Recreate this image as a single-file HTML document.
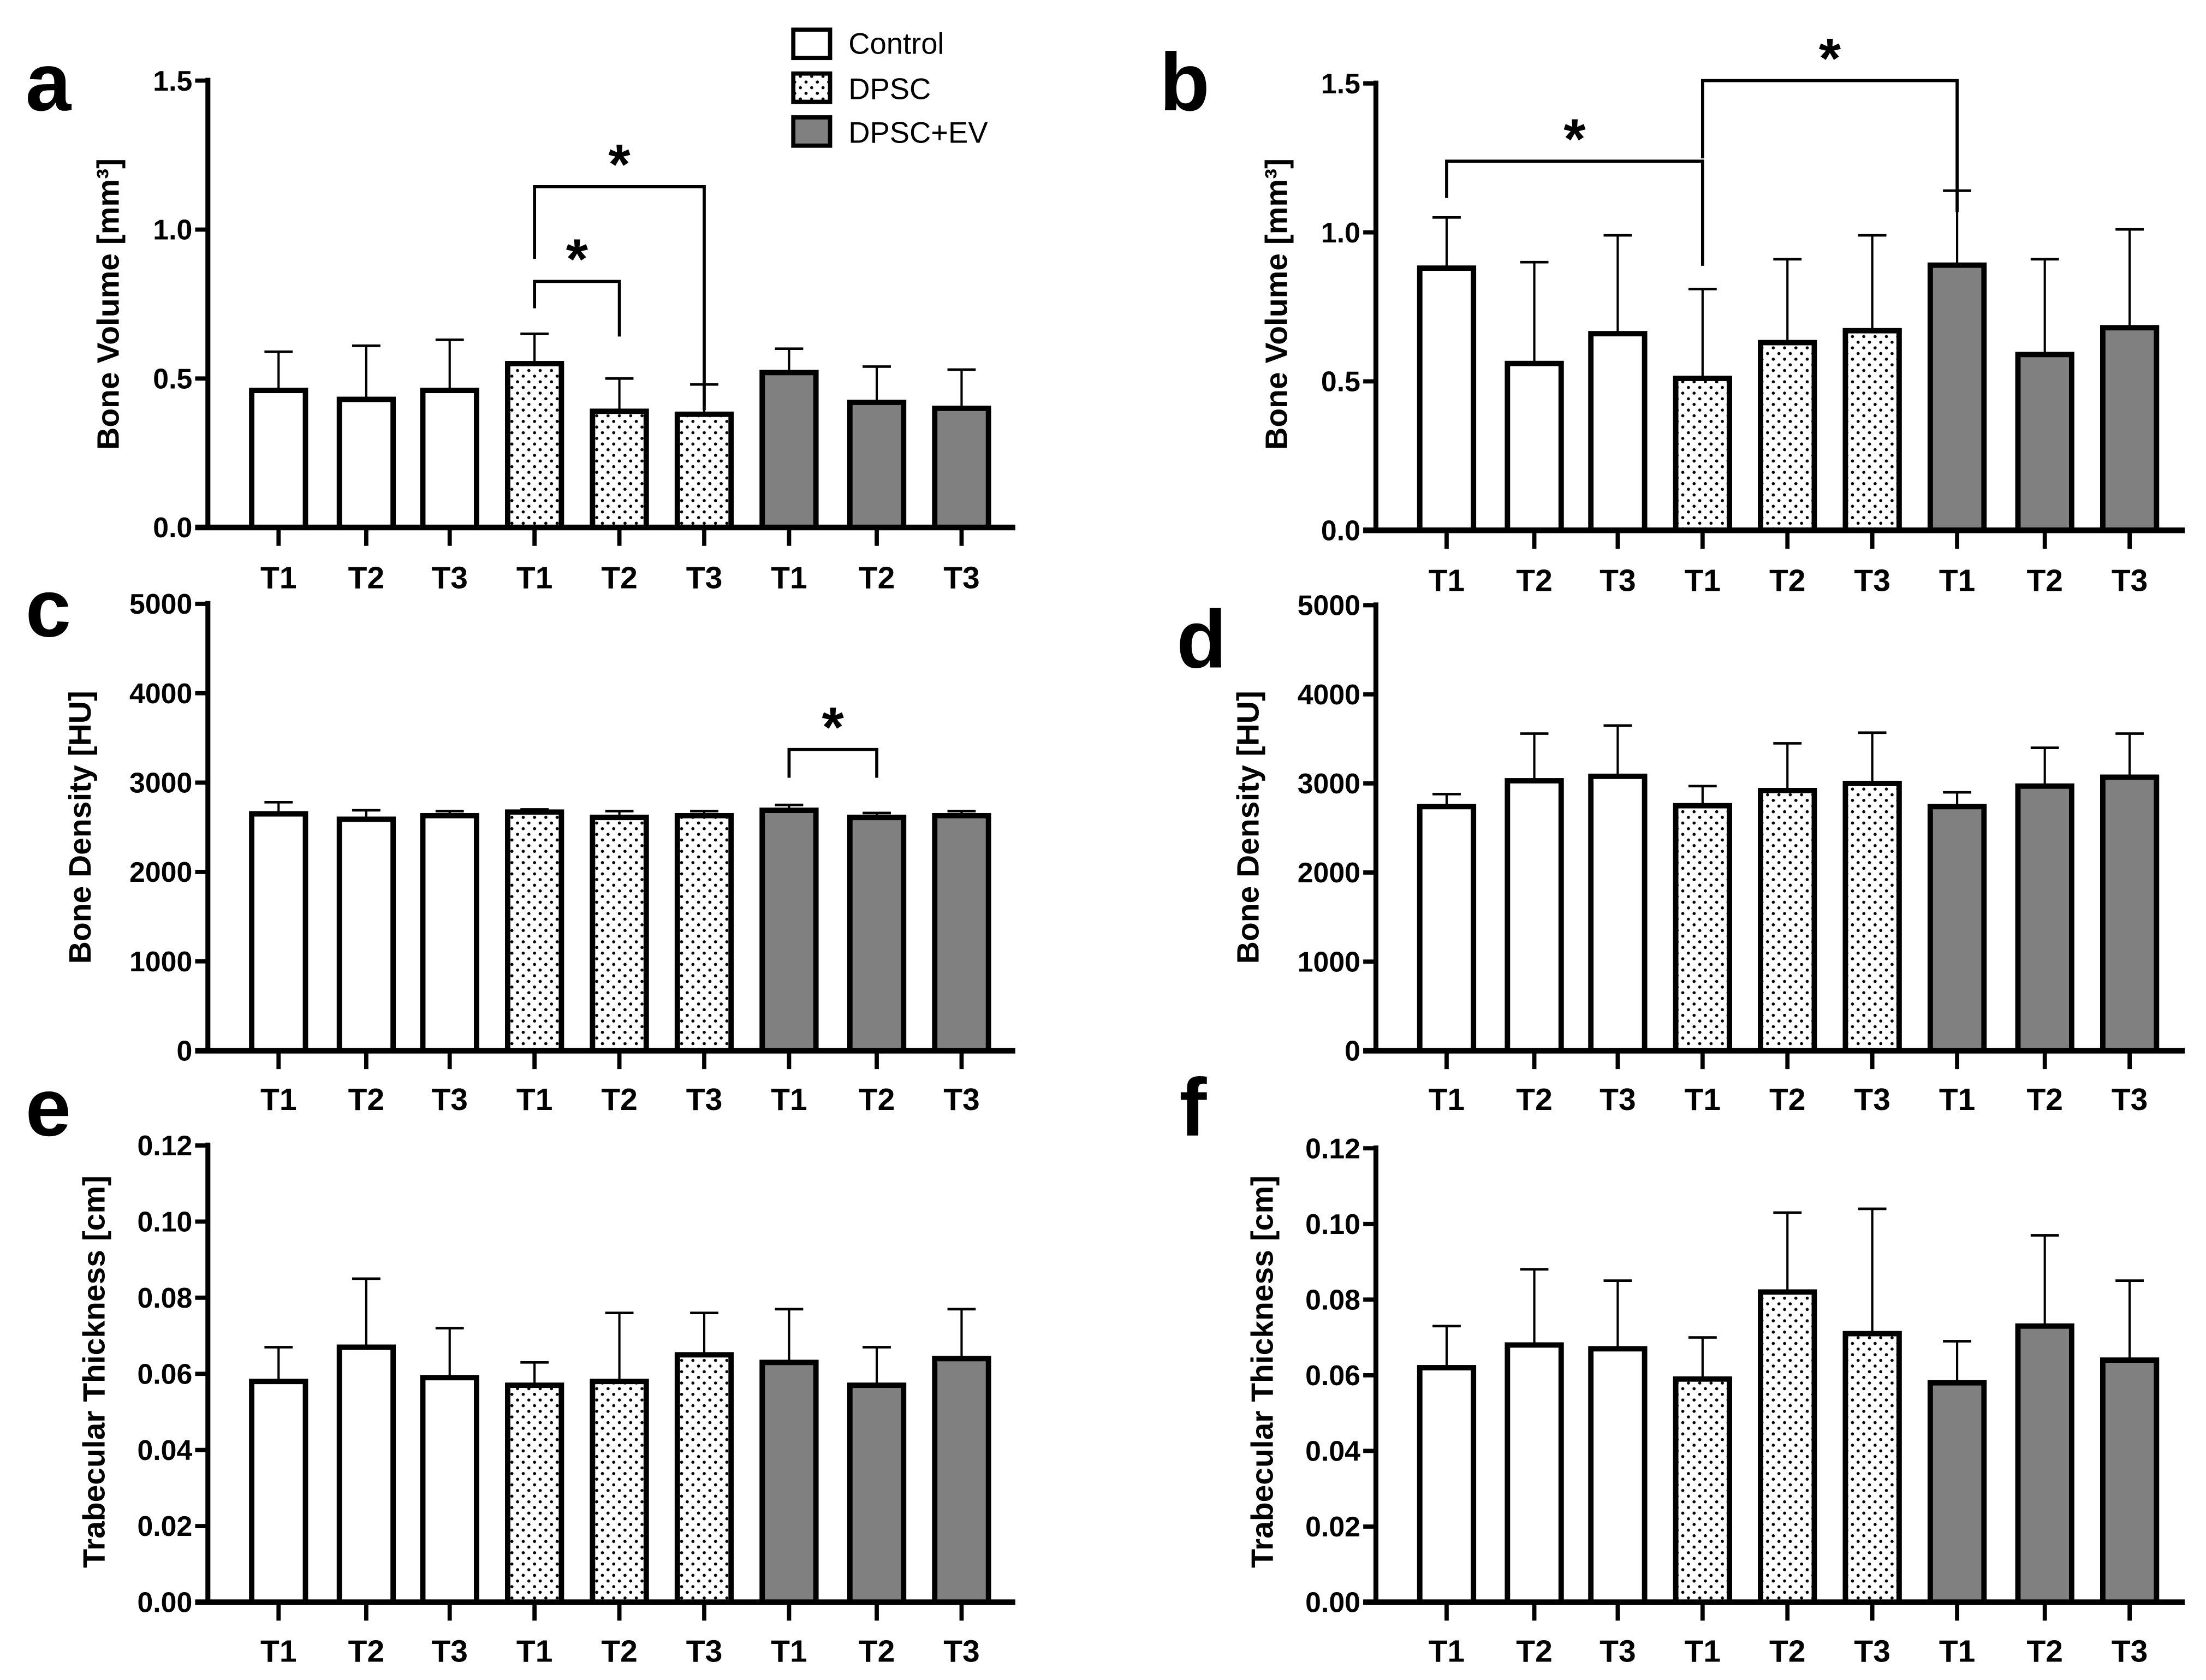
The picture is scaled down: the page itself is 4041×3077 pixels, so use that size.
<!DOCTYPE html>
<html><head><meta charset="utf-8"><style>html,body{margin:0;padding:0;background:#fff}svg{display:block}text{font-family:"Liberation Sans",Arial,sans-serif}</style></head>
<body>
<svg id="fig" width="4041" height="3077" viewBox="0 0 1560 1188" preserveAspectRatio="none" xmlns="http://www.w3.org/2000/svg">
<defs><pattern id="dots" width="8" height="8" patternUnits="userSpaceOnUse"><rect width="8" height="8" fill="#fff"/><circle cx="2" cy="2" r="1.1" fill="#000"/><circle cx="6" cy="6" r="1.1" fill="#000"/></pattern></defs>
<g id="legend">
<rect x="561" y="21" width="26" height="20" fill="#fff" stroke="#000" stroke-width="3"/>
<text x="600" y="38" font-size="21">Control</text>
<rect x="561" y="52" width="26" height="20" fill="url(#dots)" stroke="#000" stroke-width="3"/>
<text x="600" y="70" font-size="21">DPSC</text>
<rect x="561" y="83" width="26" height="20" fill="#808080" stroke="#000" stroke-width="3"/>
<text x="600" y="101" font-size="21">DPSC+EV</text>
</g>
</svg>
<script>
const categories=["T1","T2","T3","T1","T2","T3","T1","T2","T3"];
const groups=["c","c","c","d","d","d","e","e","e"];
const aMeans=[0.46,0.43,0.46,0.55,0.39,0.38,0.52,0.42,0.40];
const aErr=[0.59,0.61,0.63,0.65,0.50,0.48,0.60,0.54,0.53];
const bMeans=[0.88,0.56,0.66,0.51,0.63,0.67,0.89,0.59,0.68];
const bErr=[1.05,0.90,0.99,0.81,0.91,0.99,1.14,0.91,1.01];
const cMeans=[2650,2590,2630,2670,2610,2630,2690,2610,2630];
const cErr=[2780,2690,2680,2700,2680,2680,2750,2660,2680];
const dMeans=[2740,3030,3080,2750,2920,3000,2740,2970,3070];
const dErr=[2880,3560,3650,2970,3450,3570,2900,3400,3560];
const eMeans=[0.058,0.067,0.059,0.057,0.058,0.065,0.063,0.057,0.064];
const eErr=[0.067,0.085,0.072,0.063,0.076,0.076,0.077,0.067,0.077];
const fMeans=[0.062,0.068,0.067,0.059,0.082,0.071,0.058,0.073,0.064];
const fErr=[0.073,0.088,0.085,0.070,0.103,0.104,0.069,0.097,0.085];
const volTicks=["0.0","0.5","1.0","1.5"];
const denTicks=["0","1000","2000","3000","4000","5000"];
const thkTicks=["0.00","0.02","0.04","0.06","0.08","0.10","0.12"];
const NS="http://www.w3.org/2000/svg";
const svg=document.getElementById('fig');
function mk(tag,attrs,parent){const e=document.createElementNS(NS,tag);for(const k in attrs)e.setAttribute(k,attrs[k]);(parent||svg).appendChild(e);return e;}
const panels=[
{id:"a",x0:147,x1:718,y0:373,yt:57,max:1.5,ticks:volTicks,means:aMeans,err:aErr,title:"Bone Volume [mm³]",tx:84,ty:215,lx:18,ly:78,lab:408,
 sig:[[0,3,4,199,218,238,"*"],[0,3,5,132,183,290,"*"]]},
{id:"b",x0:973,x1:1545,y0:375,yt:59,max:1.5,ticks:volTicks,means:bMeans,err:bErr,title:"Bone Volume [mm³]",tx:910,ty:215,lx:820,ly:78,lab:410,
 sig:[[1,0,3,114,140,188,"*"],[1,3,6,57,112,150,"*"]]},
{id:"c",x0:147,x1:718,y0:743,yt:427,max:5000,ticks:denTicks,means:cMeans,err:cErr,title:"Bone  Density [HU]",tx:64,ty:585,lx:18,ly:450,lab:777,
 sig:[[2,6,7,530,550,550,"*"]]},
{id:"d",x0:973,x1:1545,y0:743,yt:428,max:5000,ticks:denTicks,means:dMeans,err:dErr,title:"Bone  Density [HU]",tx:890,ty:585,lx:832,ly:472,lab:777,sig:[]},
{id:"e",x0:147,x1:718,y0:1133,yt:810,max:0.12,ticks:thkTicks,means:eMeans,err:eErr,title:"Trabecular Thickness [cm]",tx:74,ty:970,lx:18,ly:803,lab:1167,sig:[]},
{id:"f",x0:973,x1:1545,y0:1133,yt:812,max:0.12,ticks:thkTicks,means:fMeans,err:fErr,title:"Trabecular Thickness [cm]",tx:900,ty:970,lx:834,ly:803,lab:1167,sig:[]}
];
const centersL=[197,259,318,378,438,498,558,620,680];
panels.forEach(p=>{
 const g=mk('g',{});
 
 
 const ys=v=>p.y0-(v/p.max)*(p.y0-p.yt);
 const xs=i=>centersL[i]+(p.x0-147);
 const L=mk('text',{x:p.lx,y:p.ly,'font-size':58,'font-weight':'bold'},g);L.textContent=p.id;
 
 
 p.means.forEach((m,i)=>{
  const cx=xs(i),w=38;
  const eb=mk('line',{x1:cx,x2:cx,y1:ys(m),y2:ys(p.err[i]),stroke:'#000','stroke-width':1.6},g);
  
  
  const cap=mk('line',{x1:cx-10,x2:cx+10,y1:ys(p.err[i]),y2:ys(p.err[i]),stroke:'#000','stroke-width':1.8},g);
  
  
  const fill=groups[i]==="c"?"#fff":groups[i]==="d"?"url(#dots)":"#808080";
  const r=mk('rect',{x:cx-w/2,y:ys(m),width:w,height:p.y0-ys(m),fill:fill,stroke:'#000','stroke-width':3.8},g);
  
  
  const tk=mk('line',{x1:cx,x2:cx,y1:p.y0,y2:p.y0+13,stroke:'#000','stroke-width':3},g);
  
  
  const t=mk('text',{x:cx,y:p.lab+8,'font-size':22,'font-weight':'bold','text-anchor':'middle'},g);t.textContent=categories[i];
  
  
 });
 const ax=mk('line',{x1:p.x0,x2:p.x0,y1:p.yt-2,y2:p.y0+1.5,stroke:'#000','stroke-width':3.5},g);
 
 
 const xa=mk('line',{x1:p.x0-9,x2:p.x1,y1:p.y0,y2:p.y0,stroke:'#000','stroke-width':4},g);
 
 
 p.ticks.forEach((lab,k)=>{
  const v=k*p.max/(p.ticks.length-1),y=ys(v);
  const tk=mk('line',{x1:p.x0-9,x2:p.x0,y1:y,y2:y,stroke:'#000','stroke-width':3},g);
  
  
  const t=mk('text',{x:p.x0-11,y:y+7,'font-size':20,'font-weight':'bold','text-anchor':'end'},g);t.textContent=lab;
  
  
 });
 const tt=mk('text',{x:0,y:0,'font-size':22,'font-weight':'bold','text-anchor':'middle',transform:`translate(${p.tx},${p.ty}) rotate(-90)`},g);
 tt.textContent=p.title;
 
 
 p.sig.forEach(s=>{
  const xa1=xs(s[1]),xb=xs(s[2]);
  const pl=mk('polyline',{points:`${xa1},${s[4]} ${xa1},${s[3]} ${xb},${s[3]} ${xb},${s[5]}`,fill:'none',stroke:'#000','stroke-width':2.2},g);
  
  
  const st=mk('text',{x:(xa1+xb)/2,y:s[3]-2,'font-size':40,'font-weight':'bold','text-anchor':'middle'},g);st.textContent=s[6];
  
  
 });
});
</script>
</body></html>
